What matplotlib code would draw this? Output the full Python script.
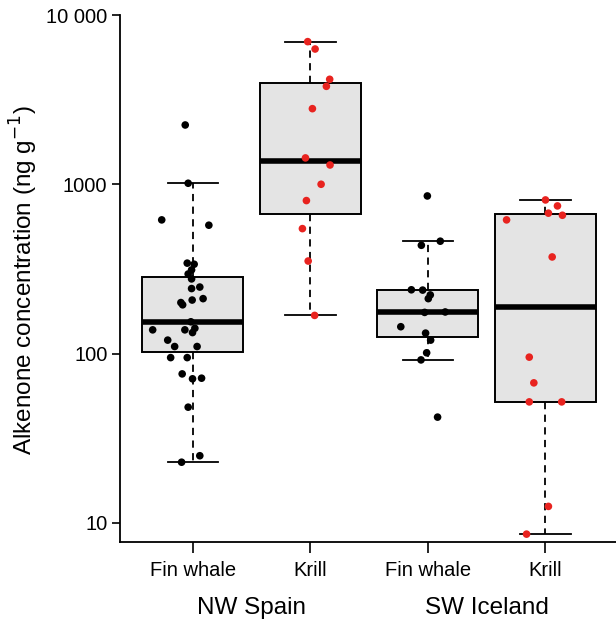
import numpy as np
import matplotlib
matplotlib.use("Agg")
import matplotlib.pyplot as plt

plt.rcParams['font.family'] = ['Liberation Sans', 'DejaVu Sans']

# categories
tick_labels = ["Fin whale", "Krill", "Fin whale", "Krill"]
region_labels = ["NW Spain", "SW Iceland"]
positions = [1, 2, 3, 4]
point_colors = ["black", "#e8231f", "black", "#e8231f"]

spain_whale = [2240, 1014, 616, 573, 342, 337, 312, 295, 276, 242, 247, 207, 211, 200, 194,
               154, 138, 138, 141, 133, 120, 110, 110, 94.6, 94.6, 75.8, 70.9, 71.5, 48.2, 24.9, 22.8]
spain_whale_jit = [-0.065, -0.04, -0.265, 0.136, -0.048, 0.011, -0.011, -0.04, -0.011, -0.011, 0.059,
                   -0.006, 0.087, -0.102, -0.087, -0.017, -0.342, -0.068, 0.017, -0.003, -0.214,
                   -0.155, 0.036, -0.189, -0.048, -0.091, -0.003, 0.074, -0.04, 0.059, -0.096]
spain_krill = [6960, 6296, 4170, 3790, 2797, 1431, 1300, 1000, 801, 547, 352, 168]
spain_krill_jit = [-0.023, 0.04, 0.164, 0.136, 0.017, -0.042, 0.167, 0.091, -0.034, -0.068, -0.019, 0.036]
iceland_whale = [853, 461, 436, 238, 237, 222, 211, 175, 176, 144, 132, 120, 101, 91.7, 42.1]
iceland_whale_jit = [-0.005, 0.105, -0.056, -0.141, -0.045, 0.02, 0.003, -0.028, 0.147, -0.231,
                     -0.02, 0.023, -0.011, -0.059, 0.082]
iceland_krill = [808, 745, 675, 656, 616, 372, 95.2, 67.1, 51.8, 51.8, 12.5, 8.57]
iceland_krill_jit = [0.0, 0.102, 0.025, 0.144, -0.331, 0.057, -0.138, -0.099, -0.138, 0.138, 0.025, -0.161]

# box summary statistics
box_q1 = [102, 665, 126, 51.8]
box_med = [153, 1367, 176, 189]
box_q3 = [285, 3985, 238, 665]
box_lo = [22.8, 168, 91.7, 8.57]
box_hi = [1014, 6960, 461, 808]

values = [spain_whale, spain_krill, iceland_whale, iceland_krill]
jitters = [spain_whale_jit, spain_krill_jit, iceland_whale_jit, iceland_krill_jit]

fig = plt.figure(figsize=(6.16, 6.2), dpi=100)
ax = fig.add_axes([0.1948, 0.1258, 0.8052, 0.85])

stats = []
for i in range(4):
    stats.append(dict(med=box_med[i], q1=box_q1[i], q3=box_q3[i],
                      whislo=box_lo[i], whishi=box_hi[i], fliers=[]))

ax.bxp(stats, positions=positions, widths=0.86, patch_artist=True, showfliers=False,
       boxprops=dict(facecolor="#e4e4e4", edgecolor="black", linewidth=1.4),
       medianprops=dict(color="black", linewidth=4.0, solid_capstyle="butt"),
       whiskerprops=dict(color="black", linewidth=1.3, linestyle=(0, (4, 3))),
       capprops=dict(color="black", linewidth=1.3),
       capwidths=0.43, zorder=2)

for i in range(4):
    x = np.array(positions[i]) + np.array(jitters[i])
    ax.scatter(x, values[i], s=30, color=point_colors[i], edgecolors="none", zorder=3)

ax.set_yscale("log")
ax.set_ylim(7.7, 10000)
ax.set_xlim(0.38, 4.6)
ax.set_yticks([10, 100, 1000, 10000])
ax.set_yticklabels(["10", "100", "1000", "10 000"])
ax.yaxis.set_minor_locator(matplotlib.ticker.NullLocator())
ax.set_xticks(positions)
ax.set_xticklabels(tick_labels)

for s in ["top", "right"]:
    ax.spines[s].set_visible(False)
for s in ["left", "bottom"]:
    ax.spines[s].set_linewidth(1.3)

ax.tick_params(axis="y", length=6, width=1.2, labelsize=14.5, pad=3)
ax.tick_params(axis="x", length=8, width=1.2, labelsize=14.5, pad=6)

ax.set_ylabel("Alkenone concentration (ng g$^{-1}$)", fontsize=17.5)
ax.yaxis.set_label_coords(-0.162, 0.497)

for j, lab in enumerate(region_labels):
    ax.text((positions[2 * j] + positions[2 * j + 1]) / 2, -0.125, lab,
            transform=ax.get_xaxis_transform(), ha="center", va="center", fontsize=17.5)

fig.savefig("out.png", dpi=100)
